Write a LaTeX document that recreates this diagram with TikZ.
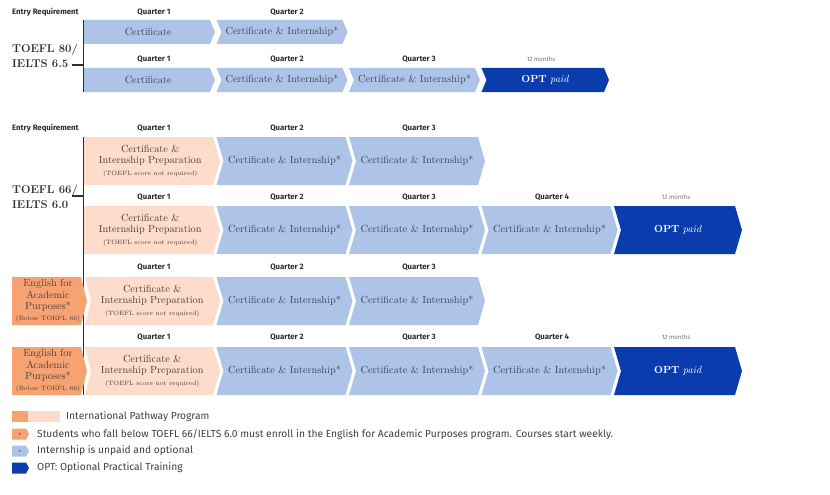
\documentclass[tikz,border=0pt]{standalone}
\usepackage{fontspec}
\setsansfont{Fira Sans}
\definecolor{lblue}{HTML}{AEC3E8}
\definecolor{dblue}{HTML}{0A3CAE}
\definecolor{peach}{HTML}{FDDCCB}
\definecolor{orng}{HTML}{F7A272}
\definecolor{btxt}{HTML}{3C4358}
\definecolor{ptxt}{HTML}{4A3F3A}
\definecolor{hdr}{HTML}{2E2E2E}
\definecolor{legt}{HTML}{404040}
\definecolor{mgray}{HTML}{777777}
\tikzset{
  blu/.style={fill=lblue},
  blu txt/.style={text=btxt, font=\fontsize{10.3}{12}\selectfont, align=center},
  opt/.style={fill=dblue},
  opt txt/.style={text=white, font=\fontsize{10.3}{12}\selectfont, align=center},
  pch/.style={fill=peach},
  pch txt/.style={text=ptxt, font=\fontsize{10.3}{11.5}\selectfont, align=center},
  org/.style={fill=orng},
  org txt/.style={text=ptxt, font=\fontsize{10.3}{11.3}\selectfont, align=center},
  qlab/.style={font=\sffamily\bfseries\fontsize{7.8}{8}\selectfont, text=hdr},
  mlab/.style={font=\sffamily\itshape\fontsize{6.2}{7}\selectfont, text=mgray},
  toefl/.style={font=\bfseries\fontsize{11.3}{15}\selectfont, text=hdr, align=left, anchor=west, inner sep=0},
  bracket/.style={draw=hdr, line width=1.2pt},
  legtext/.style={font=\sffamily\fontsize{10.25}{11}\selectfont, text=legt, anchor=west, inner sep=0},
}
% name, L, R, tip, notch, ytop, ybot, style, text
\newcommand\chev[9]{%
  \fill[#8] (#2,#6) -- (#3,#6) -- ({#3+#4},{(#6+#7)/2}) -- (#3,#7) -- (#2,#7) -- ({#2+#5},{(#6+#7)/2}) -- cycle;
  \node[#8 txt, inner sep=0] (#1) at ({(#2+#3)/2+(#4+#5)/4},{(#6+#7)/2}) {#9};}
\newcommand\smallnote[1]{{\fontsize{6.2}{7}\selectfont #1}}
\begin{document}
\begin{tikzpicture}[x=1pt,y=-1pt]
\useasboundingbox (0,0) rectangle (830,495);
\fill[white] (0,0) rectangle (830,495);

% ---------- Section 1 ----------
\node[qlab, anchor=west, inner sep=0] (er1) at (12,12) {Entry Requirement};
\node[qlab] (s1q1) at (154,12) {Quarter 1};
\node[qlab] (s1q2) at (287,12) {Quarter 2};
\node[qlab] (s1r2q1) at (154,59) {Quarter 1};
\node[qlab] (s1r2q2) at (287,59) {Quarter 2};
\node[qlab] (s1r2q3) at (419,59) {Quarter 3};
\node[mlab] (s1m) at (541,59) {12 months};

\coordinate (b1top) at (83.5,20);
\coordinate (b1bot) at (83.5,92);
\coordinate (b1mid) at (83.5,65);
\coordinate (b1end) at (72,65);
\draw[bracket] (b1top) -- (b1bot);
\draw[bracket] (b1end) -- (b1mid);
\node[toefl] (t80) at (12,56) {TOEFL 80/\\IELTS 6.5};

\chev{a1}{84}{210}{5}{0}{20}{44}{blu}{Certificate}
\chev{a2}{216.5}{342.5}{5}{5}{20}{44}{blu}{Certificate \& Internship*}

\chev{b1}{84}{210}{5}{0}{68}{92}{blu}{Certificate}
\chev{b2}{216.5}{342.5}{5}{5}{68}{92}{blu}{Certificate \& Internship*}
\chev{b3}{349}{475}{5}{5}{68}{92}{blu}{Certificate \& Internship*}
\chev{b4}{481.5}{604}{5}{5}{68}{92}{opt}{\textbf{OPT} \textit{paid}}

% ---------- Section 2 ----------
\node[qlab, anchor=west, inner sep=0] (er2) at (12,128) {Entry Requirement};
\node[qlab] (cq1) at (154,128) {Quarter 1};
\node[qlab] (cq2) at (287,128) {Quarter 2};
\node[qlab] (cq3) at (419,128) {Quarter 3};

\node[qlab] (dq1) at (154,197) {Quarter 1};
\node[qlab] (dq2) at (287,197) {Quarter 2};
\node[qlab] (dq3) at (419,197) {Quarter 3};
\node[qlab] (dq4) at (552,197) {Quarter 4};
\node[mlab] (dm) at (676,197) {12 months};

\node[qlab] (eq1) at (154,267) {Quarter 1};
\node[qlab] (eq2) at (287,267) {Quarter 2};
\node[qlab] (eq3) at (419,267) {Quarter 3};

\node[qlab] (fq1) at (154,337) {Quarter 1};
\node[qlab] (fq2) at (287,337) {Quarter 2};
\node[qlab] (fq3) at (419,337) {Quarter 3};
\node[qlab] (fq4) at (552,337) {Quarter 4};
\node[mlab] (fm) at (676,337) {12 months};

\coordinate (b2top) at (83.5,137);
\coordinate (b2bot) at (83.5,395);
\coordinate (b2mid) at (83.5,196);
\coordinate (b2end) at (72,196);
\draw[bracket] (b2top) -- (b2bot);
\draw[bracket] (b2end) -- (b2mid);
\node[toefl] (t66) at (12,197) {TOEFL 66/\\IELTS 6.0};

% row A
\chev{c1}{84}{213}{7}{0}{137}{185}{pch}{Certificate \&\\Internship Preparation\\\smallnote{(TOEFL score not required)}}
\chev{c2}{216.5}{345.5}{7}{7}{137}{185}{blu}{Certificate \& Internship*}
\chev{c3}{349}{478}{7}{7}{137}{185}{blu}{Certificate \& Internship*}
% row B
\chev{d1}{84}{213}{7}{0}{206}{254}{pch}{Certificate \&\\Internship Preparation\\\smallnote{(TOEFL score not required)}}
\chev{d2}{216.5}{345.5}{7}{7}{206}{254}{blu}{Certificate \& Internship*}
\chev{d3}{349}{478}{7}{7}{206}{254}{blu}{Certificate \& Internship*}
\chev{d4}{481.5}{610.5}{7}{7}{206}{254}{blu}{Certificate \& Internship*}
\chev{d5}{614}{735}{7}{7}{206}{254}{opt}{\textbf{OPT} \textit{paid}}
% row C
\chev{e0}{12}{81}{6}{0}{277}{325}{org}{English for\\Academic\\Purposes*\\\smallnote{(Below TOEFL 66)}}
\chev{e1}{85}{213}{7}{6}{277}{325}{pch}{Certificate \&\\Internship Preparation\\\smallnote{(TOEFL score not required)}}
\chev{e2}{216.5}{345.5}{7}{7}{277}{325}{blu}{Certificate \& Internship*}
\chev{e3}{349}{478}{7}{7}{277}{325}{blu}{Certificate \& Internship*}
% row D
\chev{f0}{12}{81}{6}{0}{347}{395}{org}{English for\\Academic\\Purposes*\\\smallnote{(Below TOEFL 66)}}
\chev{f1}{85}{213}{7}{6}{347}{395}{pch}{Certificate \&\\Internship Preparation\\\smallnote{(TOEFL score not required)}}
\chev{f2}{216.5}{345.5}{7}{7}{347}{395}{blu}{Certificate \& Internship*}
\chev{f3}{349}{478}{7}{7}{347}{395}{blu}{Certificate \& Internship*}
\chev{f4}{481.5}{610.5}{7}{7}{347}{395}{blu}{Certificate \& Internship*}
\chev{f5}{614}{735}{7}{7}{347}{395}{opt}{\textbf{OPT} \textit{paid}}

% ---------- Legend ----------
\fill[orng] (12,411) rectangle (28,422);
\fill[peach] (28,411) rectangle (60,422);
\node[legtext] (l1) at (66,416.5) {International Pathway Program};

\fill[orng] (12,428.5) -- (26,428.5) -- (29,434) -- (26,439.5) -- (12,439.5) -- cycle;
\node[font=\fontsize{6}{6}\selectfont, text=ptxt, inner sep=0] (s2) at (20,435) {*};
\node[legtext] (l2) at (37,434) {Students who fall below TOEFL 66/IELTS 6.0 must enroll in the English for Academic Purposes program. Courses start weekly.};

\fill[lblue] (12,445.5) -- (26,445.5) -- (29,451) -- (26,456.5) -- (12,456.5) -- cycle;
\node[font=\fontsize{6}{6}\selectfont, text=btxt, inner sep=0] (s3) at (20,452) {*};
\node[legtext] (l3) at (37,451) {Internship is unpaid and optional};

\fill[dblue] (12,462.5) -- (26,462.5) -- (29,468) -- (26,473.5) -- (12,473.5) -- cycle;
\node[legtext] (l4) at (37,468) {OPT: Optional Practical Training};
\end{tikzpicture}
\end{document}
